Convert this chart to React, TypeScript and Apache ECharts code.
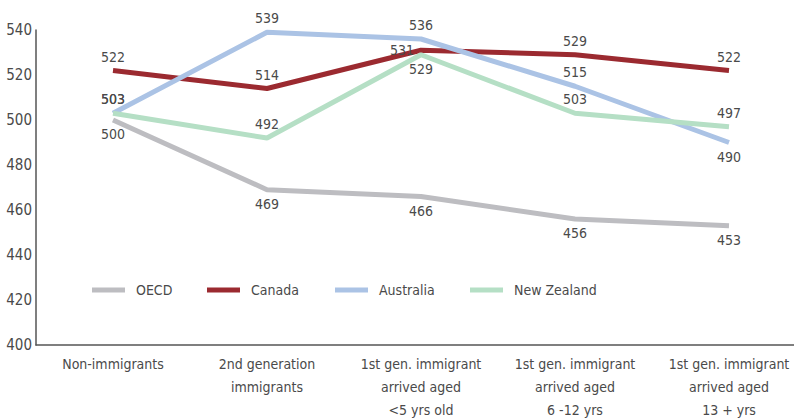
import React, { useEffect, useRef } from "react";
import * as echarts from "echarts";

const categories = [
  "Non-immigrants",
  "2nd generation\nimmigrants",
  "1st gen. immigrant\narrived aged\n<5 yrs old",
  "1st gen. immigrant\narrived aged\n6 -12 yrs",
  "1st gen. immigrant\narrived aged\n13 + yrs",
];
const seriesNames = ["OECD", "Canada", "Australia", "New Zealand"];
const oecd = [500, 469, 466, 456, 453];
const canada = [522, 514, 531, 529, 522];
const australia = [503, 539, 536, 515, 490];
const newZealand = [503, 492, 529, 503, 497];

const colors = ["#bdbdc1", "#9b2a30", "#abc3e5", "#b5dfc5"];
const labelPos = [
  ["bottom", "bottom", "bottom", "bottom", "bottom"],
  ["top", "top", "left", "top", "top"],
  ["top", "top", "top", "top", "bottom"],
  ["top", "top", "bottom", "top", "top"],
];
const legendLeft = [92, 207, 335, 470];

const FONT = "'DejaVu Sans Condensed', 'Liberation Sans Narrow', sans-serif";
const TXT = "#4a4a4a";

export default function App() {
  const ref = useRef<HTMLDivElement>(null);
  useEffect(() => {
    document.body.style.margin = "0";
    const chart = echarts.init(ref.current!, null, { renderer: "svg" });
    const all = [oecd, canada, australia, newZealand];
    chart.setOption({
      animation: false,
      textStyle: { fontFamily: FONT },
      grid: {
        left: 36,
        top: 30,
        width: 770,
        height: 315,
        containLabel: false,
        outerBoundsMode: "none",
      },
      legend: seriesNames.map((n, i) => ({
        left: legendLeft[i],
        top: 283,
        padding: 0,
        icon: "rect",
        itemWidth: 33,
        itemHeight: 5,
        textStyle: { fontSize: 14, color: TXT, fontFamily: FONT, padding: [0, 0, 0, 6] },
        data: [n],
      })),
      xAxis: {
        type: "category",
        data: categories,
        boundaryGap: true,
        axisLine: { lineStyle: { color: "#555", width: 1.5 } },
        axisTick: { show: false },
        axisLabel: {
          fontSize: 14,
          color: TXT,
          lineHeight: 23,
          margin: 7,
          interval: 0,
          fontFamily: FONT,
        },
      },
      yAxis: {
        type: "value",
        min: 400,
        max: 540,
        interval: 20,
        splitLine: { show: false },
        axisLine: { show: true, lineStyle: { color: "#555", width: 1.5 } },
        axisTick: { show: false },
        axisLabel: { fontSize: 15, color: TXT, margin: 4, fontFamily: FONT },
      },
      series: all.map((vals, si) => ({
        name: seriesNames[si],
        type: "line",
        data: vals.map((v, i) => ({
          value: v,
          label: { position: labelPos[si][i] },
        })),
        symbol: "circle",
        symbolSize: 0,
        showSymbol: true,
        lineStyle: { width: 5, color: colors[si] },
        itemStyle: { color: colors[si] },
        label: {
          show: true,
          fontSize: 14,
          color: TXT,
          distance: 7,
          fontFamily: FONT,
        },
        labelLayout: { hideOverlap: false },
      })),
    });
    return () => chart.dispose();
  }, []);
  return <div ref={ref} style={{ width: 794, height: 418 }} />;
}
